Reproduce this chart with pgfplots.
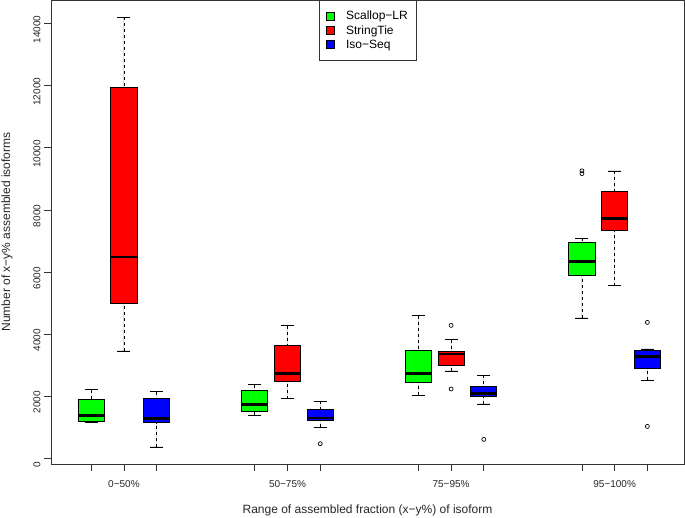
\documentclass[border=0pt]{standalone}
\usepackage{pgfplots}
\pgfplotsset{compat=1.18}
\usepgfplotslibrary{statistics}
\usepackage{fontspec}
\setmainfont{Liberation Sans}

\definecolor{rgreen}{RGB}{0,255,0}
\definecolor{rred}{RGB}{255,0,0}
\definecolor{rblue}{RGB}{0,0,255}

\pgfplotsset{
  rbox/.style={
    boxplot prepared={#1},
    draw=black, line width=0.8pt, solid,
    mark=o, mark size=2pt, mark options={black, solid, line width=0.7pt},
    forget plot,
  },
  legsq/.style={legend image code/.code={
    \draw[black, line width=0.6pt, fill=#1] (0pt,-4pt) rectangle (8pt,4pt);}},
}

\begin{document}
\begin{tikzpicture}
\useasboundingbox (0,0) rectangle (685pt,517pt);
\begin{axis}[
  at={(51pt,53pt)}, anchor=south west,
  width=633pt, height=464pt, scale only axis,
  xmin=-0.23, xmax=19.12,
  ymin=-180, ymax=14760,
  axis line style={line width=0.8pt, black!80},
  tick style={line width=0.8pt, black!80},
  tick align=outside, major tick length=7pt,
  xtick pos=bottom, ytick pos=left,
  xtick={1,2,3,6,7,8,11,12,13,16,17,18},
  xticklabels={,0−50\%,,,50−75\%,,,75−95\%,,,95−100\%,},
  ytick={0,2000,4000,6000,8000,10000,12000,14000},
  scaled y ticks=false,
  /pgf/number format/1000 sep={},
  /pgf/number format/assume math mode=true,
  tick label style={font=\fontsize{10}{12}\selectfont, black!85},
  yticklabel style={rotate=90, anchor=south, xshift=-6pt},
  xticklabel style={yshift=-6pt},
  label style={font=\fontsize{12}{14}\selectfont, black!85},
  xlabel={Range of assembled fraction (x−y\%) of isoform},
  ylabel={Number of x−y\% assembled isoforms},
  x label style={at={(axis description cs:0.5,-0.099)}, anchor=center},
  y label style={at={(axis description cs:-0.0695,0.5)}, anchor=center},
  boxplot/draw direction=y,
  boxplot/box extend=0.8,
  boxplot/whisker extend=0.4,
  boxplot/every median/.style={line width=2.5pt},
  boxplot/draw/lower whisker/.code={
    \draw[black, line width=0.8pt, dash pattern=on 3pt off 3pt]
      (boxplot cs:\pgfplotsboxplotvalue{lower whisker}) --
      (boxplot cs:\pgfplotsboxplotvalue{lower quartile});
    \draw[black, line width=0.8pt, solid]
      (boxplot whisker cs:\pgfplotsboxplotvalue{lower whisker},0) --
      (boxplot whisker cs:\pgfplotsboxplotvalue{lower whisker},1);
  },
  boxplot/draw/upper whisker/.code={
    \draw[black, line width=0.8pt, dash pattern=on 3pt off 3pt]
      (boxplot cs:\pgfplotsboxplotvalue{upper whisker}) --
      (boxplot cs:\pgfplotsboxplotvalue{upper quartile});
    \draw[black, line width=0.8pt, solid]
      (boxplot whisker cs:\pgfplotsboxplotvalue{upper whisker},0) --
      (boxplot whisker cs:\pgfplotsboxplotvalue{upper whisker},1);
  },
  legend style={at={(0.501,1)}, anchor=north, draw=black!80, line width=0.6pt,
    font=\fontsize{12}{14}\selectfont, inner xsep=7pt, inner ysep=9pt,
    row sep=0pt, /tikz/every odd column/.append style={column sep=9pt}},
  legend cell align=left,
]
% 0-50%
\addplot[rbox={draw position=1, lower whisker=1170, lower quartile=1200, median=1380, upper quartile=1900, upper whisker=2210}, fill=rgreen] coordinates {};
\addplot[rbox={draw position=2, lower whisker=3460, lower quartile=5000, median=6490, upper quartile=11930, upper whisker=14210}, fill=rred] coordinates {};
\addplot[rbox={draw position=3, lower whisker=370, lower quartile=1150, median=1280, upper quartile=1930, upper whisker=2150}, fill=rblue] coordinates {};
% 50-75%
\addplot[rbox={draw position=6, lower whisker=1385, lower quartile=1504, median=1739, upper quartile=2190, upper whisker=2374}, fill=rgreen] coordinates {};
\addplot[rbox={draw position=7, lower whisker=1923, lower quartile=2492, median=2728, upper quartile=3640, upper whisker=4274}, fill=rred] coordinates {};
\addplot[rbox={draw position=8, lower whisker=998, lower quartile=1224, median=1301, upper quartile=1578, upper whisker=1836}, fill=rblue] coordinates {(8,473)};
% 75-95%
\addplot[rbox={draw position=11, lower whisker=2029, lower quartile=2448, median=2738, upper quartile=3491, upper whisker=4596}, fill=rgreen] coordinates {};
\addplot[rbox={draw position=12, lower whisker=2815, lower quartile=3008, median=3362, upper quartile=3446, upper whisker=3823}, fill=rred] coordinates {(12,4283) (12,2235)};
\addplot[rbox={draw position=13, lower whisker=1752, lower quartile=1987, median=2084, upper quartile=2331, upper whisker=2673}, fill=rblue] coordinates {(13,612)};
% 95-100%
\addplot[rbox={draw position=16, lower whisker=4522, lower quartile=5894, median=6345, upper quartile=6970, upper whisker=7085}, fill=rgreen] coordinates {(16,9170) (16,9260)};
\addplot[rbox={draw position=17, lower whisker=5562, lower quartile=7343, median=7720, upper quartile=8599, upper whisker=9256}, fill=rred] coordinates {};
\addplot[rbox={draw position=18, lower whisker=2512, lower quartile=2911, median=3275, upper quartile=3469, upper whisker=3523}, fill=rblue] coordinates {(18,4380) (18,1031)};

\addlegendimage{legsq=rgreen}
\addlegendentry{Scallop−LR}
\addlegendimage{legsq=rred}
\addlegendentry{StringTie}
\addlegendimage{legsq=rblue}
\addlegendentry{Iso−Seq}
\end{axis}
\end{tikzpicture}
\end{document}
